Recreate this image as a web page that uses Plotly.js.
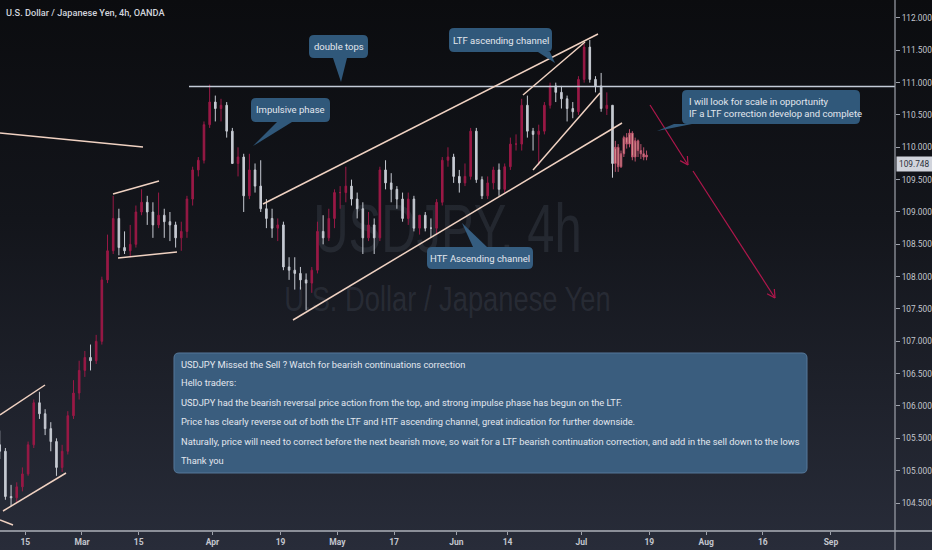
<!DOCTYPE html>
<html><head><meta charset="utf-8">
<script src="https://cdn.plot.ly/plotly-3.0.1.min.js"></script>
<style>
html,body{margin:0;padding:0;width:932px;height:550px;overflow:hidden;
 background:linear-gradient(to bottom,#0b0c0f 0%,#13151b 40%,#282c39 100%);}
.wm{position:absolute;left:0;width:895px;text-align:center;color:rgba(120,130,150,0.17);
 font-family:"Liberation Sans",Arial,sans-serif;white-space:nowrap;}
#wm1{top:186px;font-size:68px;line-height:84px;transform:scaleX(0.72);}
#wm2{top:278px;font-size:35px;line-height:42px;transform:scaleX(0.78);}
#chart{position:absolute;left:0;top:0;width:932px;height:550px;}
</style></head><body>
<div class="wm" id="wm1">USDJPY, 4h</div>
<div class="wm" id="wm2">U.S. Dollar / Japanese Yen</div>
<div id="chart"></div>
<script>
// ---------------- DATA (daily bars) ----------------
const dates = [
 '2021-02-08','2021-02-09','2021-02-10','2021-02-11','2021-02-12',
 '2021-02-15','2021-02-16','2021-02-17','2021-02-18','2021-02-19',
 '2021-02-22','2021-02-23','2021-02-24','2021-02-25','2021-02-26',
 '2021-03-01','2021-03-02','2021-03-03','2021-03-04','2021-03-05',
 '2021-03-08','2021-03-09','2021-03-10','2021-03-11','2021-03-12',
 '2021-03-15','2021-03-16','2021-03-17','2021-03-18','2021-03-19',
 '2021-03-22','2021-03-23','2021-03-24','2021-03-25','2021-03-26',
 '2021-03-29','2021-03-30','2021-03-31','2021-04-01','2021-04-02',
 '2021-04-05','2021-04-06','2021-04-07','2021-04-08','2021-04-09',
 '2021-04-12','2021-04-13','2021-04-14','2021-04-15','2021-04-16',
 '2021-04-19','2021-04-20','2021-04-21','2021-04-22','2021-04-23',
 '2021-04-26','2021-04-27','2021-04-28','2021-04-29','2021-04-30',
 '2021-05-03','2021-05-04','2021-05-05','2021-05-06','2021-05-07',
 '2021-05-10','2021-05-11','2021-05-12','2021-05-13','2021-05-14',
 '2021-05-17','2021-05-18','2021-05-19','2021-05-20','2021-05-21',
 '2021-05-24','2021-05-25','2021-05-26','2021-05-27','2021-05-28',
 '2021-05-31','2021-06-01','2021-06-02','2021-06-03','2021-06-04',
 '2021-06-07','2021-06-08','2021-06-09','2021-06-10','2021-06-11',
 '2021-06-14','2021-06-15','2021-06-16','2021-06-17','2021-06-18',
 '2021-06-21','2021-06-22','2021-06-23','2021-06-24','2021-06-25',
 '2021-06-28','2021-06-29','2021-06-30','2021-07-01','2021-07-02',
 '2021-07-05','2021-07-06','2021-07-07','2021-07-08'];
const openP = [
 105.40,105.30,104.60,104.58,104.75, 104.95,105.40,106.05,105.88,105.65,
 105.45,105.05,105.30,105.85,106.20, 106.55,106.75,106.70,107.00,107.95,
 108.40,108.90,108.45,108.40,108.50, 109.00,109.15,109.00,108.80,108.95,
 108.85,108.80,108.60,108.70,109.20, 109.65,109.80,110.35,110.70,110.60,
 110.65,110.25,109.75,109.85,109.25, 109.65,109.40,109.05,108.90,108.75,
 108.80,108.15,108.10,108.05,107.95, 107.90,108.10,108.70,108.60,108.90,
 109.30,109.30,109.40,109.20,109.05, 108.60,108.80,108.60,109.65,109.45,
 109.35,109.20,108.90,109.20,108.75, 108.95,108.75,108.75,109.15,109.80,
 109.85,109.55,109.45,109.55,110.25, 109.50,109.25,109.45,109.65,109.35,
 109.70,110.05,110.05,110.65,110.25, 110.20,110.25,110.65,110.95,110.85,
 110.75,110.60,110.55,111.05,111.55, 111.05,110.95,110.60,110.65];
const highP = [
 105.62,105.35,104.78,104.82,105.05, 105.45,106.10,106.22,105.95,105.75,
 105.50,105.40,105.92,106.40,106.70, 106.85,106.95,107.10,108.00,108.65,
 109.25,109.05,108.70,108.80,109.10, 109.35,109.25,109.15,109.30,109.05,
 109.00,108.85,108.85,109.25,109.70, 109.85,110.40,110.97,110.80,110.75,
 110.70,110.30,110.00,109.90,109.90, 109.75,109.80,109.20,109.05,108.90,
 108.85,108.30,108.30,108.15,108.05, 108.15,108.85,108.95,109.05,109.35,
 109.40,109.70,109.50,109.30,109.15, 109.00,108.90,109.70,109.80,109.60,
 109.40,109.30,109.30,109.25,108.95, 109.00,108.90,109.20,109.85,110.00,
 109.90,109.65,109.75,110.30,110.30, 109.55,109.55,109.70,109.75,109.75,
 110.15,110.20,110.75,110.80,110.30, 110.35,110.70,111.00,111.00,110.95,
 110.80,110.70,111.10,111.60,111.66, 111.10,111.15,110.85,110.65];
const lowP = [
 105.18,104.55,104.45,104.50,104.68, 104.92,105.35,105.80,105.55,105.30,
 104.92,104.98,105.25,105.80,106.10, 106.45,106.55,106.65,106.95,107.90,
 108.35,108.33,108.35,108.30,108.45, 108.95,108.80,108.60,108.75,108.60,
 108.55,108.45,108.40,108.60,109.10, 109.55,109.75,110.30,110.40,110.40,
 110.15,109.75,109.55,109.00,109.20, 109.30,109.00,108.75,108.60,108.55,
 108.10,107.95,107.80,107.80,107.48, 107.75,108.05,108.50,108.55,108.75,
 109.05,109.15,109.10,108.90,108.35, 108.55,108.35,108.55,109.35,109.15,
 109.05,108.85,108.80,108.70,108.65, 108.70,108.60,108.65,109.10,109.70,
 109.45,109.30,109.40,109.50,109.45, 109.20,109.20,109.35,109.25,109.30,
 109.65,109.95,109.95,110.15,109.95, 109.72,110.20,110.60,110.70,110.60,
 110.40,110.45,110.50,111.00,111.00, 110.85,110.55,110.50,109.53];
const closeP = [
 105.30,104.60,104.58,104.75,104.95, 105.40,106.05,105.88,105.65,105.45,
 105.05,105.30,105.85,106.20,106.55, 106.75,106.70,107.00,107.95,108.40,
 108.90,108.45,108.40,108.50,109.00, 109.15,109.00,108.80,108.95,108.85,
 108.80,108.60,108.70,109.20,109.65, 109.80,110.35,110.70,110.60,110.65,
 110.25,109.75,109.85,109.25,109.65, 109.40,109.05,108.90,108.75,108.80,
 108.15,108.10,108.05,107.95,107.90, 108.10,108.70,108.60,108.90,109.30,
 109.30,109.40,109.20,109.05,108.60, 108.80,108.60,109.65,109.45,109.35,
 109.20,108.90,109.20,108.75,108.95, 108.75,108.75,109.15,109.80,109.85,
 109.55,109.45,109.55,110.25,109.50, 109.25,109.45,109.65,109.35,109.70,
 110.05,110.05,110.65,110.25,110.20, 110.25,110.65,110.95,110.85,110.75,
 110.60,110.55,111.05,111.55,111.05, 110.95,110.60,110.65,109.75];

// projected "bars pattern" drawing (salmon), half-day bars
const patTimes = ['2021-07-09 00:00','2021-07-09 12:00','2021-07-12 00:00','2021-07-12 12:00',
 '2021-07-13 00:00','2021-07-13 12:00','2021-07-14 00:00','2021-07-14 12:00',
 '2021-07-15 00:00','2021-07-15 12:00','2021-07-16 00:00','2021-07-16 12:00'];
const patOpen  = [109.75,110.00,109.70,109.90,110.15,110.05,110.22,109.85,110.10,109.95,109.90,109.85];
const patHigh  = [110.10,110.05,109.95,110.18,110.22,110.28,110.25,110.15,110.12,110.05,110.00,109.95];
const patLow   = [109.62,109.62,109.68,109.85,109.98,110.00,109.80,109.78,109.85,109.82,109.80,109.80];
const patClose = [110.00,109.70,109.90,110.15,110.05,110.22,109.85,110.10,109.95,109.90,109.85,109.88];

const tickDates  = ['2021-02-15','2021-03-01','2021-03-15','2021-04-01','2021-04-19','2021-05-03','2021-05-17',
 '2021-06-01','2021-06-14','2021-07-01','2021-07-19','2021-08-02','2021-08-16','2021-09-01'];
const tickLabels = ['15','Mar','15','Apr','19','May','17','Jun','14','Jul','19','Aug','16','Sep'];
const lastPrice = 109.748;
const titleText = 'U.S. Dollar / Japanese Yen, 4h, OANDA';
const noteLines = [
 'USDJPY Missed the Sell ? Watch for bearish continuations correction',
 'Hello traders:',
 'USDJPY had the bearish reversal price action from the top, and strong impulse phase has begun on the LTF.',
 'Price has clearly reverse out of both the LTF and HTF ascending channel, great indication for further downside.',
 'Naturally, price will need to correct before the next bearish move, so wait for a LTF bearish continuation correction, and add in the sell down to the lows',
 'Thank you'];

// ---------------- LAYOUT HELPERS ----------------
const FONT = 'Roboto, "Liberation Sans", sans-serif';
const W = 895, H = 531;
const X = v => v / W, Y = v => 1 - v / H;
const P = (x, y) => X(x).toFixed(5) + ',' + Y(y).toFixed(5);
const shapes = [], annotations = [];
const DRAW = '#f0d2c2', BLUE = '#30587a';

function seg(x0, y0, x1, y1, color, width) {
  shapes.push({type:'line', xref:'paper', yref:'paper', x0:X(x0), y0:Y(y0), x1:X(x1), y1:Y(y1),
    line:{color:color, width:width}});
}
function roundRect(x0, y0, x1, y1, r) {
  return 'M' + P(x0 + r, y0) + ' L' + P(x1 - r, y0) + ' Q' + P(x1, y0) + ' ' + P(x1, y0 + r) +
    ' L' + P(x1, y1 - r) + ' Q' + P(x1, y1) + ' ' + P(x1 - r, y1) +
    ' L' + P(x0 + r, y1) + ' Q' + P(x0, y1) + ' ' + P(x0, y1 - r) +
    ' L' + P(x0, y0 + r) + ' Q' + P(x0, y0) + ' ' + P(x0 + r, y0) + ' Z';
}
function callout(x0, y0, x1, y1, tip, b1, b2, fill, lines, fs, align) {
  shapes.push({type:'path', xref:'paper', yref:'paper', path:roundRect(x0, y0, x1, y1, 5),
    fillcolor:fill, line:{width:0}});
  shapes.push({type:'path', xref:'paper', yref:'paper',
    path:'M' + P(b1[0], b1[1]) + ' L' + P(tip[0], tip[1]) + ' L' + P(b2[0], b2[1]) + ' Z',
    fillcolor:fill, line:{width:0}});
  const cx = align === 'left' ? x0 + 5 : (x0 + x1) / 2;
  annotations.push({xref:'paper', yref:'paper', x:X(cx), y:Y((y0 + y1) / 2), text:lines.join('<br>'),
    showarrow:false, xanchor:align === 'left' ? 'left' : 'center', yanchor:'middle', align:align || 'center',
    font:{family:FONT, size:fs, color:'#e3e7ee'}});
}
function arrow(x0, y0, x1, y1, color) {
  seg(x0, y0, x1, y1, color, 1.2);
  const a = Math.atan2(y1 - y0, x1 - x0);
  [0.5, -0.5].forEach(s => seg(x1, y1, x1 - 9 * Math.cos(a + s), y1 - 9 * Math.sin(a + s), color, 1.2));
}

// trend lines / drawings
seg(0, 133, 143, 147, DRAW, 1.5);
seg(189, 86.5, 895, 86.5, '#c4ccd8', 1.5);
seg(113, 194, 159, 181, DRAW, 1.5);
seg(118, 258, 177, 252, DRAW, 1.5);
seg(0, 415, 45, 385, DRAW, 1.5);
seg(3, 511, 66, 473, DRAW, 1.5);
seg(0, 520, 13, 525, DRAW, 1.5);
seg(263, 204, 598, 34, DRAW, 1.5);
seg(293, 320, 622, 123, DRAW, 1.5);
seg(523, 95, 585, 42, DRAW, 1.5);
seg(533, 170, 600, 93, DRAW, 1.5);
arrow(650, 105, 688, 165, '#b0174c');
arrow(693, 171, 775, 298, '#b0174c');

// callouts
callout(309, 35, 368, 58, [341, 82], [333, 58], [347, 58], BLUE, ['double tops'], 9.5);
callout(251, 98, 330, 122, [253, 146], [277, 122], [292, 122], BLUE, ['Impulsive phase'], 9.5);
callout(449, 28, 552, 52, [555, 63], [538, 52], [550, 52], BLUE, ['LTF ascending channel'], 9.5);
callout(427, 247, 533, 269, [462, 223], [473, 247], [487, 247], '#355d80', ['HTF Ascending channel'], 9.5);
callout(682, 90, 860, 124, [657, 131], [674, 124], [692, 124], BLUE,
  ['I will look for scale in opportunity', 'IF a LTF correction develop and complete'], 9.5, 'left');

// big note box
shapes.push({type:'path', xref:'paper', yref:'paper', path:roundRect(174, 353, 807, 473, 5),
  fillcolor:'#3a5d7e', line:{color:'#56789a', width:1}});
const noteY = [364, 382, 402, 421, 441, 460];
noteLines.forEach((t, i) => annotations.push({xref:'paper', yref:'paper', x:X(179), y:Y(noteY[i]), text:t,
  showarrow:false, xanchor:'left', yanchor:'middle', font:{family:FONT, size:9.3, color:'#e3e7ee'}}));

// title
annotations.push({xref:'paper', yref:'paper', x:X(4), y:Y(12), text:titleText, showarrow:false,
  xanchor:'left', yanchor:'middle', font:{family:FONT, size:9.2, color:'#d1d4dc', weight:500}});

// last price label
annotations.push({xref:'paper', yref:'y', x:1, y:lastPrice, text:lastPrice.toFixed(3), showarrow:false,
  xanchor:'left', yanchor:'middle', xshift:1, bgcolor:'#d1d4dc', borderpad:2,
  font:{family:FONT, size:8.3, color:'#2a2e39'}});

// axis frame extensions
shapes.push({type:'line', xref:'paper', yref:'paper', x0:0, x1:1.05, y0:0, y1:0, line:{color:'#aeb2ba', width:1.5}});
shapes.push({type:'line', xref:'paper', yref:'paper', x0:1, x1:1, y0:-0.05, y1:1, line:{color:'#9ea2ab', width:1.2}});

const traces = [
  {type:'candlestick', x:dates.map(d => d + ' 12:00'), open:openP, high:highP, low:lowP, close:closeP,
   increasing:{line:{color:'#9a1946', width:1}, fillcolor:'#9a1946'},
   decreasing:{line:{color:'#c6cad2', width:1}, fillcolor:'#c6cad2'},
   whiskerwidth:0, hoverinfo:'skip', showlegend:false},
  {type:'candlestick', x:patTimes, open:patOpen, high:patHigh, low:patLow, close:patClose,
   increasing:{line:{color:'#b8506a', width:1}, fillcolor:'#e8b1a0'},
   decreasing:{line:{color:'#b8506a', width:1}, fillcolor:'#e8b1a0'},
   whiskerwidth:0, hoverinfo:'skip', showlegend:false}
];

const layout = {
  width:932, height:550,
  margin:{l:0, r:37, t:0, b:19, pad:0},
  paper_bgcolor:'rgba(0,0,0,0)', plot_bgcolor:'rgba(0,0,0,0)',
  showlegend:false, boxgap:0.2,
  xaxis:{type:'date', range:['2021-02-08 13:10', '2021-09-16 07:00'],
    rangebreaks:[{bounds:['sat', 'mon']}], rangeslider:{visible:false},
    tickmode:'array', tickvals:tickDates, ticktext:tickLabels,
    ticks:'outside', ticklen:3, tickcolor:'#9ea2ab', showgrid:false, zeroline:false,
    showline:false, tickfont:{family:FONT, size:8.5, color:'#c3c6ce', weight:'bold'}, fixedrange:true},
  yaxis:{side:'right', range:[104.067, 112.278], dtick:0.5, tick0:104, tickformat:'.3f',
    ticks:'outside', ticklen:4, tickcolor:'#9ea2ab', showgrid:false, zeroline:false,
    showline:false, tickfont:{family:FONT, size:8.3, color:'#c3c6ce'}, fixedrange:true},
  shapes:shapes, annotations:annotations
};
Plotly.newPlot('chart', traces, layout, {displayModeBar:false, staticPlot:true});
</script>
</body></html>
